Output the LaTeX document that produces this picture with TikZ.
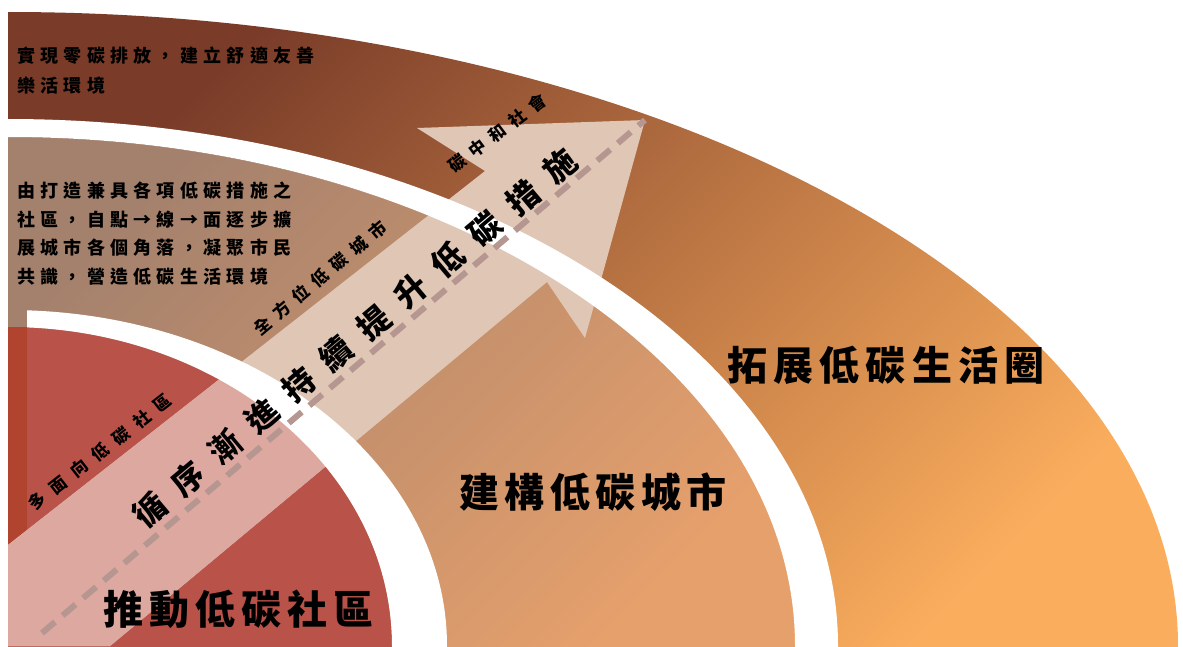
\documentclass[tikz,border=0pt]{standalone}
\usepackage{fontspec}
\newfontfamily\cjk{Noto Sans CJK TC}
\ExplSyntaxOn
\NewDocumentCommand\spacedtext{m m}{\kern-#1\relax\tl_map_inline:nn{#2}{\kern#1\relax##1}}
\ExplSyntaxOff
\definecolor{ringdark}{HTML}{7A3C29}
\definecolor{ringlight}{HTML}{FAAD5D}
\definecolor{middark}{HTML}{A4816D}
\definecolor{midlight}{HTML}{E6A06C}
\definecolor{redfill}{HTML}{B9534A}
\definecolor{redstrip}{HTML}{B0442F}
\definecolor{arrowfill}{HTML}{DFC6B5}
\definecolor{arrowred}{HTML}{DCA89F}
\definecolor{dashcol}{HTML}{B59690}
\tikzset{
  lbl/.style={inner sep=0pt, text=black},
  smalltxt/.style={lbl, font=\cjk\bfseries\fontsize{18pt}{20pt}\selectfont},
  ringtxt/.style={lbl, font=\cjk\bfseries\fontsize{17pt}{19pt}\selectfont},
  bigtxt/.style={lbl, font=\cjk\bfseries\fontsize{40pt}{44pt}\selectfont},
  arrowtxt/.style={lbl, font=\cjk\bfseries\fontsize{32pt}{36pt}\selectfont},
  whiteband/.style={fill=white, even odd rule},
  dashline/.style={draw=dashcol, line width=6pt, dash pattern=on 17pt off 10pt},
}
\begin{document}
\begin{tikzpicture}[x=1pt, y=-1pt]
\useasboundingbox (0,0) rectangle (1183,646);
\fill[white] (0,0) rectangle (1183,646);
\begin{scope}
  \clip (8,0) rectangle (1183,646);
  % outer ring
  \begin{scope}
    \clip (8,646) ellipse [x radius=1170, y radius=634];
    \shade[top color=ringdark, bottom color=ringlight, shading angle=45] (8,12) rectangle (1178,646);
  \end{scope}
  % middle shape
  \begin{scope}
    \clip (8,646) ellipse [x radius=787, y radius=509];
    \shade[top color=middark, bottom color=midlight, shading angle=45] (8,137) rectangle (795,646);
  \end{scope}
  % inner red
  \fill[redfill] (8,646) ellipse [x radius=384, y radius=319];
  \fill[redstrip] (8,327) rectangle (27,646);
  % arrow
  \coordinate (tip) at (645,120);
  \coordinate (dashstart) at (42,633);
  \path[fill=arrowfill] (8,545) -- (485,171) -- (417,128) -- (tip) -- (585,338) -- (547,282) -- (110,646) -- (8,646) -- cycle;
  \begin{scope}
    \clip (8,646) ellipse [x radius=384, y radius=319];
    \path[fill=arrowred] (8,545) -- (485,171) -- (417,128) -- (tip) -- (585,338) -- (547,282) -- (110,646) -- (8,646) -- cycle;
  \end{scope}
  % white bands
  \path[whiteband] (8,646) ellipse [x radius=830, y radius=527] (8,646) ellipse [x radius=787, y radius=509];
  \begin{scope}
    \clip (27,0) rectangle (1183,646);
    \path[whiteband] (8,646) ellipse [x radius=439, y radius=336] (8,646) ellipse [x radius=384, y radius=319];
  \end{scope}
  % dashed line
  \draw[dashline] (dashstart) -- (tip);
\end{scope}
% texts
\node[smalltxt, anchor=west] (goal1) at (17,56) {\spacedtext{5.3pt}{實現零碳排放，建立舒適友善}};
\node[smalltxt, anchor=west] (goal2) at (17,86) {\spacedtext{5.3pt}{樂活環境}};
\node[smalltxt, anchor=west] (desc1) at (17,191) {\spacedtext{5.3pt}{由打造兼具各項低碳措施之}};
\node[smalltxt, anchor=west] (desc2) at (17,220) {\spacedtext{5.3pt}{社區，自點→線→面逐步擴}};
\node[smalltxt, anchor=west] (desc3) at (17,248) {\spacedtext{5.3pt}{展城市各個角落，凝聚市民}};
\node[smalltxt, anchor=west] (desc4) at (17,277) {\spacedtext{5.3pt}{共識，營造低碳生活環境}};
\node[ringtxt, rotate=37] (ring3) at (497,133) {\spacedtext{8pt}{碳中和社會}};
\node[ringtxt, rotate=40] (ring2) at (320,278) {\spacedtext{8pt}{全方位低碳城市}};
\node[ringtxt, rotate=38] (ring1) at (100,452) {\spacedtext{9.5pt}{多面向低碳社區}};
\node[arrowtxt, rotate=40] (arrowlabel) at (355,338) {\spacedtext{16.6pt}{循序漸進持續提升低碳措施}};
\node[bigtxt] (inner) at (238,609) {\spacedtext{6pt}{推動低碳社區}};
\node[bigtxt] (middle) at (593,492) {\spacedtext{5.4pt}{建構低碳城市}};
\node[bigtxt] (outer) at (886,365) {\spacedtext{6.3pt}{拓展低碳生活圈}};
\end{tikzpicture}
\end{document}
